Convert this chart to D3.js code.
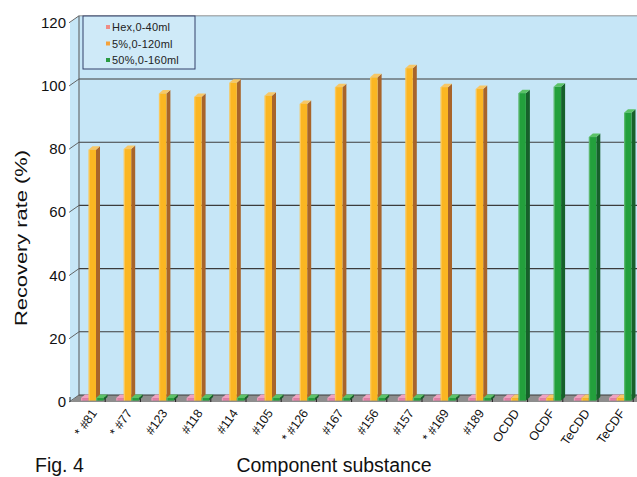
<!DOCTYPE html>
<html><head><meta charset="utf-8">
<script src="https://cdn.jsdelivr.net/npm/d3@7"></script>
<style>
body{margin:0;background:#fff}
svg{display:block;font-family:"Liberation Sans",Arial,Helvetica,sans-serif}
</style>
</head><body>
<svg id="chart" width="637" height="477"></svg>
<script>
// Recovery rate per component substance, three elution fractions
const categories = ["* #81","* #77","#123","#118","#114","#105","* #126","#167","#156","#157","* #169","#189","OCDD","OCDF","TeCDD","TeCDF"];
const seriesNames = ["Hex,0-40ml","5%,0-120ml","50%,0-160ml"];
const hexValues   = [0.8,0.8,0.8,0.8,0.8,0.8,0.8,0.8,0.8,0.8,0.8,0.8,0.8,0.8,0.8,0.8];
const pct5Values  = [79.4,79.6,97.2,96.1,100.6,96.5,93.9,99.2,102.3,105.2,99.2,98.6,0.8,0.8,0.8,0.8];
const pct50Values = [0.8,0.8,0.8,0.8,0.8,0.8,0.8,0.8,0.8,0.8,0.8,0.8,97.3,99.3,83.4,91.1];
const yTicks = [0,20,40,60,80,100,120];

const svg = d3.select("#chart");

// pseudo-3D frame
const frontX0 = 70, bandW = 35.2;
const depthX = 9, depthY = -7;         // wall depth offset
const frontBase = 402;                  // value 0 on the front edge
const barShiftX = 1.8, barShiftY = -1.4; // bar front face sits slightly behind the front edge
const barDX = 4, barDY = -3.5;          // bar depth
const barW = 7.5;

const x = d3.scaleBand().domain(categories).range([frontX0, frontX0 + bandW * categories.length]);
const yFront = d3.scaleLinear().domain([0,120]).range([frontBase, frontBase - 120*3.16]);
const yBack  = v => yFront(v) + depthY;
const yBar   = v => yFront(v) + barShiftY;

const xLeftBack = frontX0 + depthX;
const xRight = frontX0 + bandW * categories.length;

const wallFill = "#c6e6f7";
// back wall
svg.append("rect").attr("x", xLeftBack).attr("y", yBack(120))
  .attr("width", xRight + depthX - xLeftBack + 20).attr("height", yBack(0) - yBack(120))
  .attr("fill", wallFill);
// side wall
svg.append("polygon")
  .attr("points", [[frontX0, yFront(0)],[xLeftBack, yBack(0)],[xLeftBack, yBack(120)],[frontX0, yFront(120)]].join(" "))
  .attr("fill", wallFill);
// floor
svg.append("polygon")
  .attr("points", [[frontX0, yFront(0)],[xLeftBack, yBack(0)],[xRight + depthX + 20, yBack(0)],[xRight + 20, yFront(0)]].join(" "))
  .attr("fill", "#8d8d8d");

// gridlines on back wall and side wall
yTicks.forEach(v => {
  svg.append("line").attr("x1", xLeftBack).attr("x2", 700)
    .attr("y1", yBack(v)).attr("y2", yBack(v))
    .attr("stroke", v === 120 ? "#777" : "#3c3c3c").attr("stroke-width", v === 120 ? 0.8 : 1.1);
  svg.append("line").attr("x1", frontX0 - 1).attr("x2", xLeftBack)
    .attr("y1", yFront(v)).attr("y2", yBack(v))
    .attr("stroke", "#555").attr("stroke-width", 0.9);
});
svg.append("line").attr("x1", xLeftBack).attr("x2", xLeftBack)
  .attr("y1", yBack(120)).attr("y2", yBack(0)).attr("stroke", "#555").attr("stroke-width", 1);

// x ticks on the floor
d3.range(categories.length + 1).forEach(i => {
  const tx = frontX0 + i * bandW;
  svg.append("line").attr("x1", tx).attr("x2", tx)
    .attr("y1", frontBase - 5).attr("y2", frontBase).attr("stroke", "#222").attr("stroke-width", 1);
});

// y axis labels
svg.append("g").selectAll("text").data(yTicks).join("text")
  .attr("x", frontX0 - 4).attr("y", d => yFront(d) + 5)
  .attr("text-anchor", "end").attr("font-size", 15).attr("fill", "#111")
  .text(d => d);

// bars
const series = [
  {values: hexValues,   offset: 9.2,  front: "#e47fa6", side: "#a9506f", top: "#f0a2c0"},
  {values: pct5Values,  offset: 16.7, front: "#fbb622", side: "#a8642a", top: "#f7c766"},
  {values: pct50Values, offset: 24.2, front: "#23a03c", side: "#16602a", top: "#5bc267"}
];
const barsG = svg.append("g");
categories.forEach((c, i) => {
  series.forEach(s => {
    const v = s.values[i];
    const bx = x(c) + s.offset + barShiftX;
    const yt = yBar(v), yb = yBar(0);
    const g = barsG.append("g");
    g.append("polygon").attr("points", [[bx+barW, yt],[bx+barW+barDX, yt+barDY],[bx+barW+barDX, yb+barDY],[bx+barW, yb]].join(" ")).attr("fill", s.side);
    g.append("polygon").attr("points", [[bx, yt],[bx+barDX, yt+barDY],[bx+barW+barDX, yt+barDY],[bx+barW, yt]].join(" ")).attr("fill", s.top);
    g.append("rect").attr("x", bx).attr("y", yt).attr("width", barW).attr("height", yb - yt).attr("fill", s.front);
    g.append("rect").attr("x", bx).attr("y", yt).attr("width", 1.3).attr("height", yb - yt).attr("fill", "#fff").attr("opacity", 0.25);
  });
});

// category labels
svg.append("g").selectAll("text").data(categories).join("text")
  .attr("transform", d => `translate(${x(d) + bandW/2 + 10},${frontBase + 11}) rotate(-55)`)
  .attr("text-anchor", "end").attr("font-size", 12.5).attr("fill", "#111")
  .text(d => d);

// legend
const lg = svg.append("g");
lg.append("rect").attr("x", 83).attr("y", 16).attr("width", 112).attr("height", 53)
  .attr("fill", "#cfeaf8").attr("stroke", "#33416b").attr("stroke-width", 1);
const legendColors = ["#ef8c86", "#f5a23a", "#2a9b42"];
seriesNames.forEach((n, i) => {
  const ly = 27.5 + i * 16.5;
  lg.append("rect").attr("x", 106).attr("y", ly - 2.5).attr("width", 4).attr("height", 4).attr("fill", legendColors[i]);
  lg.append("text").attr("x", 112).attr("y", ly + 3.8).attr("font-size", 11).attr("letter-spacing", 0.2)
    .attr("fill", "#222").text(n);
});

// titles
svg.append("text").attr("transform", "translate(27,238) rotate(-90)")
  .attr("text-anchor", "middle").attr("font-size", 16).attr("fill", "#111")
  .attr("textLength", 176).attr("lengthAdjust", "spacingAndGlyphs").text("Recovery rate (%)");
svg.append("text").attr("x", 334).attr("y", 472).attr("text-anchor", "middle")
  .attr("font-size", 19.5).attr("fill", "#111").text("Component substance");
svg.append("text").attr("x", 35).attr("y", 472).attr("font-size", 19.5).attr("fill", "#111").text("Fig. 4");
</script>
</body></html>
